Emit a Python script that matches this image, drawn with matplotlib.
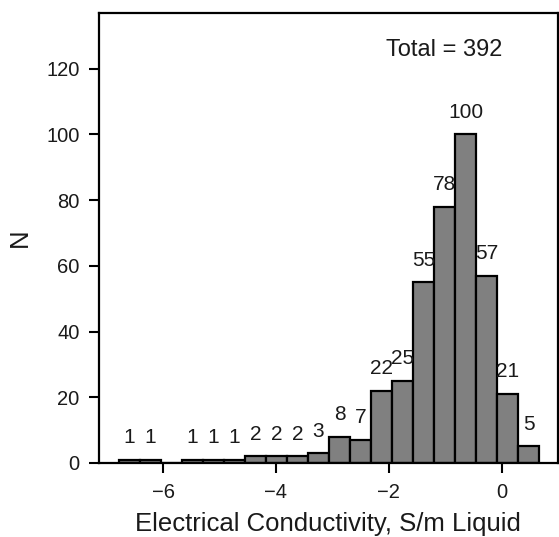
import numpy as np
import matplotlib
matplotlib.use("Agg")
import matplotlib.pyplot as plt

plt.rcParams['font.family'] = ['Liberation Sans', 'DejaVu Sans']

# histogram counts per bin (log10 conductivity)
counts = [1, 1, 0, 1, 1, 1, 2, 2, 2, 3, 8, 7, 22, 25, 55, 78, 100, 57, 21, 5]
bin_lo = -6.785
bin_hi = 0.667
total = 392

edges = np.linspace(bin_lo, bin_hi, len(counts) + 1)
width = edges[1] - edges[0]

fig = plt.figure(figsize=(5.59, 5.37), dpi=100)
ax = fig.add_axes([0.177, 0.138, 0.821, 0.838])

ax.bar(edges[:-1], counts, width=width, align='edge', color='#808080',
       edgecolor='black', linewidth=1.6)

for x, c in zip(edges[:-1] + width / 2, counts):
    if c > 0:
        ax.text(x, c + 5, str(c), ha='center', va='baseline', fontsize=15,
                color='#1a1a1a')

ax.text(0.878, 0.904, 'Total = %d' % total, transform=ax.transAxes,
        ha='right', va='baseline', fontsize=17, color='#1a1a1a')

ax.set_xlim(-7.14, 1.0)
ax.set_ylim(0, 137)
ax.set_xticks([-6, -4, -2, 0])
ax.set_yticks(np.arange(0, 121, 20))
ax.tick_params(labelsize=14.5, length=7, width=1.5, labelcolor='#1a1a1a')
ax.tick_params(axis='x', pad=7.5)
ax.tick_params(axis='y', pad=7)
for s in ax.spines.values():
    s.set_linewidth(1.6)

ax.set_xlabel('Electrical Conductivity, S/m Liquid', fontsize=18.5, labelpad=7,
              color='#1a1a1a')
ax.set_ylabel('N', fontsize=18.5, labelpad=10, color='#1a1a1a')

fig.savefig('out.png', dpi=100)
